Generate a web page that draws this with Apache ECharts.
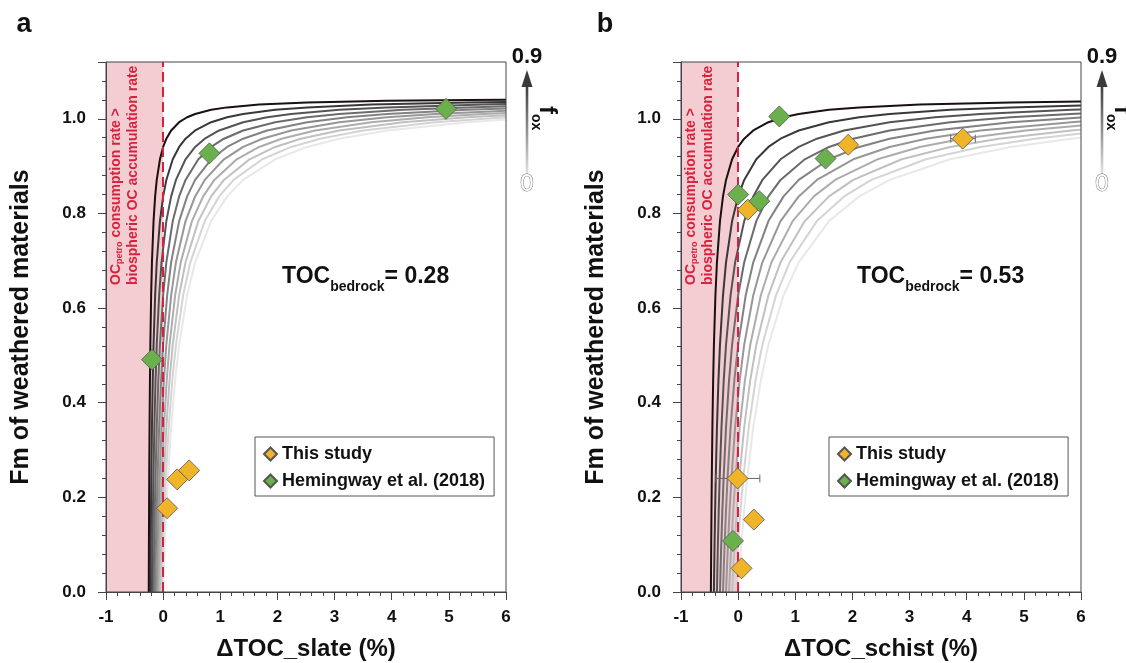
<!DOCTYPE html>
<html><head><meta charset="utf-8">
<script src="https://cdn.jsdelivr.net/npm/echarts/dist/echarts.min.js"></script>
<style>html,body{margin:0;padding:0;background:#fff}#c{width:1126px;height:663px}</style>
</head><body><div id="c"></div>
<script>
// ---- data ----
const foxValues = [0, 0.1, 0.2, 0.3, 0.4, 0.5, 0.6, 0.7, 0.8, 0.9];
// Fm levels shared by all mixing curves (point i of every curve)
const fmLevels = [0, 0.0498, 0.0950, 0.1742, 0.2412, 0.3483, 0.4479, 0.5225, 0.6270, 0.6967, 0.7838, 0.8360, 0.8708, 0.9144, 0.9405, 0.9579, 0.9753, 0.9928, 1.0032, 1.0102, 1.0189, 1.0241, 1.0301, 1.0346, 1.0380, 1.0398];
const xEnd = 6;
// panel a (slate, TOC bedrock 0.28): x of each curve at the Fm levels, one row per f_ox
const slateCurveX = [
  [0, 0.014, 0.028, 0.056, 0.084, 0.14, 0.21, 0.28, 0.42, 0.56, 0.84, 1.12, 1.4, 1.96, 2.52, 3.08, 3.92, 5.32],
  [-0.028, -0.0154, -0.0028, 0.0224, 0.0476, 0.098, 0.161, 0.224, 0.35, 0.476, 0.728, 0.98, 1.232, 1.736, 2.24, 2.744, 3.5, 4.76],
  [-0.056, -0.0448, -0.0336, -0.0112, 0.0112, 0.056, 0.112, 0.168, 0.28, 0.392, 0.616, 0.84, 1.064, 1.512, 1.96, 2.408, 3.08, 4.2, 5.32],
  [-0.084, -0.0742, -0.0644, -0.0448, -0.0252, 0.014, 0.063, 0.112, 0.21, 0.308, 0.504, 0.7, 0.896, 1.288, 1.68, 2.072, 2.66, 3.64, 4.62, 5.6],
  [-0.112, -0.1036, -0.0952, -0.0784, -0.0616, -0.028, 0.014, 0.056, 0.14, 0.224, 0.392, 0.56, 0.728, 1.064, 1.4, 1.736, 2.24, 3.08, 3.92, 4.76],
  [-0.14, -0.133, -0.126, -0.112, -0.098, -0.07, -0.035, 0, 0.07, 0.14, 0.28, 0.42, 0.56, 0.84, 1.12, 1.4, 1.82, 2.52, 3.22, 3.92, 5.32],
  [-0.168, -0.1624, -0.1568, -0.1456, -0.1344, -0.112, -0.084, -0.056, 0, 0.056, 0.168, 0.28, 0.392, 0.616, 0.84, 1.064, 1.4, 1.96, 2.52, 3.08, 4.2, 5.32],
  [-0.196, -0.1918, -0.1876, -0.1792, -0.1708, -0.154, -0.133, -0.112, -0.07, -0.028, 0.056, 0.14, 0.224, 0.392, 0.56, 0.728, 0.98, 1.4, 1.82, 2.24, 3.08, 3.92, 5.6],
  [-0.224, -0.2212, -0.2184, -0.2128, -0.2072, -0.196, -0.182, -0.168, -0.14, -0.112, -0.056, 0, 0.056, 0.168, 0.28, 0.392, 0.56, 0.84, 1.12, 1.4, 1.96, 2.52, 3.64, 5.32],
  [-0.252, -0.2506, -0.2492, -0.2464, -0.2436, -0.238, -0.231, -0.224, -0.21, -0.196, -0.168, -0.14, -0.112, -0.056, 0, 0.056, 0.14, 0.28, 0.42, 0.56, 0.84, 1.12, 1.68, 2.52, 3.92, 5.32]
];
const slateEndFm = [0.9984, 1.0031, 1.0077, 1.0124, 1.0170, 1.0217, 1.0264, 1.0310, 1.0357, 1.0403];
// panel b (schist, TOC bedrock 0.53)
const schistCurveX = [
  [0, 0.0265, 0.053, 0.106, 0.159, 0.265, 0.3975, 0.53, 0.795, 1.06, 1.59, 2.12, 2.65, 3.71, 4.77, 5.83],
  [-0.053, -0.0292, -0.0053, 0.0424, 0.0901, 0.1855, 0.3048, 0.424, 0.6625, 0.901, 1.378, 1.855, 2.332, 3.286, 4.24, 5.194],
  [-0.106, -0.0848, -0.0636, -0.0212, 0.0212, 0.106, 0.212, 0.318, 0.53, 0.742, 1.166, 1.59, 2.014, 2.862, 3.71, 4.558, 5.83],
  [-0.159, -0.1405, -0.1219, -0.0848, -0.0477, 0.0265, 0.1193, 0.212, 0.3975, 0.583, 0.954, 1.325, 1.696, 2.438, 3.18, 3.922, 5.035],
  [-0.212, -0.1961, -0.1802, -0.1484, -0.1166, -0.053, 0.0265, 0.106, 0.265, 0.424, 0.742, 1.06, 1.378, 2.014, 2.65, 3.286, 4.24, 5.83],
  [-0.265, -0.2518, -0.2385, -0.212, -0.1855, -0.1325, -0.0663, 0, 0.1325, 0.265, 0.53, 0.795, 1.06, 1.59, 2.12, 2.65, 3.445, 4.77],
  [-0.318, -0.3074, -0.2968, -0.2756, -0.2544, -0.212, -0.159, -0.106, 0, 0.106, 0.318, 0.53, 0.742, 1.166, 1.59, 2.014, 2.65, 3.71, 4.77, 5.83],
  [-0.371, -0.3631, -0.3551, -0.3392, -0.3233, -0.2915, -0.2518, -0.212, -0.1325, -0.053, 0.106, 0.265, 0.424, 0.742, 1.06, 1.378, 1.855, 2.65, 3.445, 4.24, 5.83],
  [-0.424, -0.4187, -0.4134, -0.4028, -0.3922, -0.371, -0.3445, -0.318, -0.265, -0.212, -0.106, 0, 0.106, 0.318, 0.53, 0.742, 1.06, 1.59, 2.12, 2.65, 3.71, 4.77],
  [-0.477, -0.4744, -0.4717, -0.4664, -0.4611, -0.4505, -0.4373, -0.424, -0.3975, -0.371, -0.318, -0.265, -0.212, -0.106, 0, 0.106, 0.265, 0.53, 0.795, 1.06, 1.59, 2.12, 3.18, 4.77]
];
const schistEndFm = [0.9602, 0.9687, 0.9771, 0.9856, 0.9941, 1.0026, 1.0111, 1.0196, 1.0280, 1.0365];

const slateThisStudy = [[0.07, 0.177], [0.245, 0.238], [0.455, 0.257]];
const slateHemingway = [[-0.195, 0.491], [0.81, 0.927], [4.95, 1.021]];
const schistThisStudy = [[1.925, 0.945], [3.93, 0.958], [0.17, 0.808], [-0.01, 0.24], [0.275, 0.153], [0.06, 0.05]];
const schistHemingway = [[0.72, 1.005], [1.53, 0.916], [0.0, 0.84], [0.37, 0.826], [-0.09, 0.108]];
// error bars: [x, y, xLow, xHigh]
const schistErrBars = [[3.93, 0.958, 3.72, 4.15], [-0.01, 0.24, -0.39, 0.38]];

const xTicks = [-1, 0, 1, 2, 3, 4, 5, 6];
const yTicks = [0, 0.2, 0.4, 0.6, 0.8, 1.0];
const tocSlate = '0.28';
const tocSchist = '0.53';

// ---- styles ----
const FF = '"Liberation Sans", Arial, Helvetica, sans-serif';
const curveColors = ['#e8e8e8', '#d4d4d4', '#c0c0c0', '#acacac', '#979797', '#828282', '#6c6c6c', '#545454', '#383838', '#1a1010'];
const RED = '#d6223d';
const ORANGE = '#F0B429';
const GREEN = '#6AB04C';

const chart = echarts.init(document.getElementById('c'), null, {renderer: 'canvas'});

function grid(left) {
  return {left: left, top: 62, width: 400, height: 530, show: true, borderColor: '#444', borderWidth: 1,
    backgroundColor: 'transparent', z: 10, containLabel: false, outerBoundsMode: 'none'};
}
function xAx(gi, name) {
  return {
    type: 'value', gridIndex: gi, min: xTicks[0], max: xTicks[xTicks.length - 1], interval: 1, z: 10,
    name: name, nameLocation: 'middle', nameGap: 45,
    nameTextStyle: {fontSize: 24, fontWeight: 'bold', color: '#111', fontFamily: FF},
    axisLine: {show: true, onZero: false, lineStyle: {color: '#444', width: 1}},
    axisTick: {show: true, length: 8, lineStyle: {color: '#444', width: 1}},
    minorTick: {show: true, splitNumber: 5, length: 4, lineStyle: {color: '#444', width: 1}},
    axisLabel: {fontSize: 17, fontWeight: 'bold', color: '#111', margin: 17, fontFamily: FF},
    splitLine: {show: false}, minorSplitLine: {show: false}
  };
}
function yAxMajor(gi) {
  return {
    type: 'value', gridIndex: gi, min: 0, max: 1.12, interval: 0.2, position: 'left', z: 10,
    name: 'Fm of weathered materials', nameLocation: 'middle', nameGap: 72,
    nameTextStyle: {fontSize: 25, fontWeight: 'bold', color: '#111', fontFamily: FF},
    axisLine: {show: true, onZero: false, lineStyle: {color: '#444', width: 1}},
    axisTick: {show: true, length: 8, lineStyle: {color: '#444', width: 1}},
    axisLabel: {fontSize: 17, fontWeight: 'bold', color: '#111', margin: 20, fontFamily: FF,
      formatter: v => (v > yTicks[yTicks.length - 1] + 0.01 ? '' : v.toFixed(1))},
    splitLine: {show: false}
  };
}
function yAxMinor(gi) {
  return {
    type: 'value', gridIndex: gi, min: 0, max: 1.12, interval: 0.04, position: 'left', offset: 0, z: 10,
    axisLine: {show: false, onZero: false},
    axisTick: {show: true, length: 4, lineStyle: {color: '#444', width: 1}},
    axisLabel: {show: false}, splitLine: {show: false}
  };
}
function curveSeries(curveX, endFm, xi, yi) {
  return curveX.map((xs, i) => ({
    type: 'line', name: 'f_ox ' + foxValues[i], xAxisIndex: xi, yAxisIndex: yi,
    symbol: 'none', showSymbol: false, silent: true, z: 2, animation: false,
    lineStyle: {color: curveColors[i], width: 2},
    data: xs.map((x, j) => [x, fmLevels[j]]).concat([[xEnd, endFm[i]]])
  }));
}
function helperSeries(xi, yi) {
  return [
    {type: 'line', xAxisIndex: xi, yAxisIndex: yi, data: [[-1, 0]], symbol: 'none', silent: true, z: 1,
      lineStyle: {width: 0, opacity: 0},
      markArea: {silent: true, itemStyle: {color: '#f4cdd2', opacity: 1}, data: [[{xAxis: -1}, {xAxis: 0}]]}},
    {type: 'line', xAxisIndex: xi, yAxisIndex: yi, data: [[0, 0]], symbol: 'none', silent: true, z: 6,
      lineStyle: {width: 0, opacity: 0},
      markLine: {silent: true, symbol: ['none', 'none'], label: {show: false},
        lineStyle: {color: RED, width: 2, type: [10, 5], opacity: 1}, data: [{xAxis: 0}]}}
  ];
}
function scatterSeries(name, data, color, xi, yi) {
  return {type: 'scatter', name: name, xAxisIndex: xi, yAxisIndex: yi, symbol: 'diamond', symbolSize: 21, z: 5,
    itemStyle: {color: color, borderColor: '#555', borderWidth: 0.8, opacity: 1}, data: data};
}
function errSeries(data, xi, yi) {
  return {type: 'custom', xAxisIndex: xi, yAxisIndex: yi, z: 4, silent: true, data: data,
    encode: {x: 0, y: 1},
    renderItem: function (params, api) {
      const y = api.value(1), lo = api.value(2), hi = api.value(3);
      const p1 = api.coord([lo, y]), p2 = api.coord([hi, y]);
      const st = {stroke: '#666', lineWidth: 1};
      return {type: 'group', children: [
        {type: 'line', shape: {x1: p1[0], y1: p1[1], x2: p2[0], y2: p2[1]}, style: st},
        {type: 'line', shape: {x1: p1[0], y1: p1[1] - 4, x2: p1[0], y2: p1[1] + 4}, style: st},
        {type: 'line', shape: {x1: p2[0], y1: p2[1] - 4, x2: p2[0], y2: p2[1] + 4}, style: st}
      ]};
    }};
}
function legend(left) {
  return {show: true, orient: 'vertical', left: left, top: 437, padding: [7, 9, 5, 8], itemGap: 7,
    itemWidth: 13, itemHeight: 13, icon: 'diamond', borderColor: '#555', borderWidth: 1, backgroundColor: '#fff',
    data: ['This study', 'Hemingway et al. (2018)'], selectedMode: false,
    textStyle: {fontSize: 18, fontWeight: 'bold', color: '#111', fontFamily: FF, lineHeight: 20}};
}
function panelGraphics(dx, toc, letter) {
  const g = [];
  g.push({type: 'text', x: 24 + dx + (letter === 'b' ? 6 : 0), y: 25, style: {text: letter, font: 'bold 27px ' + FF, fill: '#111',
    align: 'center', verticalAlign: 'middle', textAlign: 'center', textVerticalAlign: 'middle'}});
  g.push({type: 'text', x: 282 + dx, y: 277, z: 20, style: {
    text: '{m|TOC}{s|bedrock}{m|= ' + toc + '}',
    align: 'left', verticalAlign: 'middle', textAlign: 'left', textVerticalAlign: 'middle',
    rich: {m: {fontSize: 23, fontWeight: 'bold', fontFamily: FF, fill: '#111', lineHeight: 28},
           s: {fontSize: 14, fontWeight: 'bold', fontFamily: FF, fill: '#111', lineHeight: 14, padding: [20, 0, 0, 0]}}}});
  g.push({type: 'text', x: 125 + dx, y: 285, rotation: Math.PI / 2, z: 20, style: {
    text: '{m|OC}{s|petro}{m| consumption rate >}\n{m|biospheric OC accumulation rate}',
    align: 'left', verticalAlign: 'middle', textAlign: 'left', textVerticalAlign: 'middle',
    rich: {m: {fontSize: 14, fontWeight: 'bold', fontFamily: FF, fill: RED, lineHeight: 17},
           s: {fontSize: 9, fontWeight: 'bold', fontFamily: FF, fill: RED, lineHeight: 9, padding: [6, 0, 0, 0]}}}});
  // f_ox arrow
  g.push({type: 'rect', shape: {x: 525.7 + dx, y: 84, width: 2.6, height: 90}, z: 20, style: {
    fill: {type: 'linear', x: 0, y: 0, x2: 0, y2: 1, colorStops: [{offset: 0, color: '#3a3a3a'}, {offset: 1, color: '#e2e2e2'}]}}});
  g.push({type: 'polygon', shape: {points: [[527 + dx, 70], [521.5 + dx, 87], [532.5 + dx, 87]]}, z: 20, style: {fill: '#3a3a3a'}});
  g.push({type: 'text', x: 527 + dx, y: 57, z: 20, style: {text: '0.9', font: 'bold 22px ' + FF, fill: '#111',
    align: 'center', verticalAlign: 'middle', textAlign: 'center', textVerticalAlign: 'middle'}});
  g.push({type: 'text', x: 527 + dx, y: 184, z: 20, style: {text: '0', font: '24px ' + FF, fill: '#fff', stroke: '#777', lineWidth: 1,
    align: 'center', verticalAlign: 'middle', textAlign: 'center', textVerticalAlign: 'middle'}});
  g.push({type: 'text', x: 547 + dx, y: 106, rotation: -Math.PI / 2, z: 20, style: {
    text: '{f|f}{o|ox}', align: 'left', verticalAlign: 'middle', textAlign: 'left', textVerticalAlign: 'middle',
    rich: {f: {fontSize: 24, fontWeight: 'bold', fontFamily: FF, fill: '#111', lineHeight: 26},
           o: {fontSize: 14, fontWeight: 'bold', fontFamily: FF, fill: '#111', lineHeight: 14, padding: [23, 0, 0, 0]}}}});
  return g;
}

const series = [].concat(
  helperSeries(0, 0),
  curveSeries(slateCurveX, slateEndFm, 0, 0),
  [scatterSeries('This study', slateThisStudy, ORANGE, 0, 0),
   scatterSeries('Hemingway et al. (2018)', slateHemingway, GREEN, 0, 0)],
  helperSeries(1, 2),
  curveSeries(schistCurveX, schistEndFm, 1, 2),
  [errSeries(schistErrBars, 1, 2),
   scatterSeries('This study', schistThisStudy, ORANGE, 1, 2),
   scatterSeries('Hemingway et al. (2018)', schistHemingway, GREEN, 1, 2)]
);

chart.setOption({
  animation: false,
  backgroundColor: '#fff',
  textStyle: {fontFamily: FF},
  grid: [grid(106), grid(681)],
  xAxis: [xAx(0, '\u0394TOC_slate (%)'), xAx(1, '\u0394TOC_schist (%)')],
  yAxis: [yAxMajor(0), yAxMinor(0), yAxMajor(1), yAxMinor(1)],
  legend: [legend(255), legend(829)],
  tooltip: {show: false},
  series: series,
  graphic: {elements: [].concat(panelGraphics(0, tocSlate, 'a'), panelGraphics(575, tocSchist, 'b'))}
});
</script></body></html>
